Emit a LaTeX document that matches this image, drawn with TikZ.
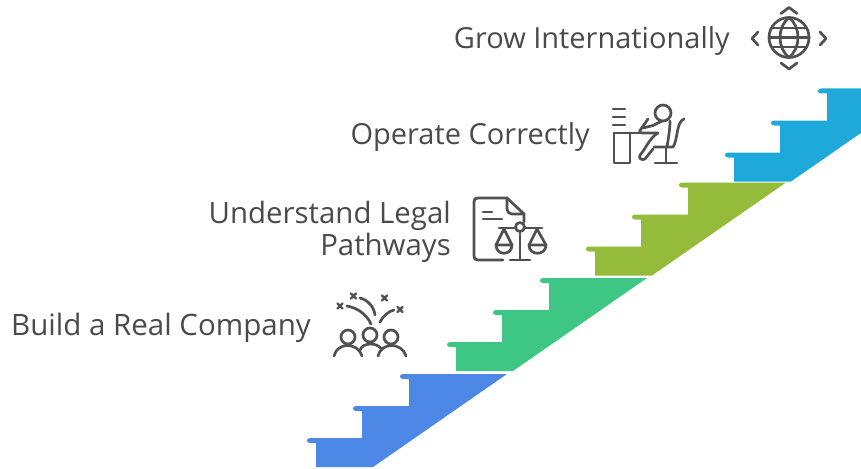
\documentclass[tikz,border=0pt]{standalone}
\usepackage{fontspec}
\setmainfont{Open Sans}
\definecolor{txt}{HTML}{4A4A4A}
\definecolor{icon}{HTML}{505050}
\definecolor{sblue}{HTML}{4E88E6}
\definecolor{sgreen}{HTML}{3DC684}
\definecolor{solive}{HTML}{94BB3A}
\definecolor{ssky}{HTML}{1FA9DB}
\tikzset{
  label text/.style={text=txt,font=\fontsize{29}{32}\selectfont,inner sep=0pt,align=right},
  icon line/.style={draw=icon,line width=2.7pt,line cap=round,line join=round},
}
% stair flight, relative to the blue one at (316,467)
\newcommand{\stairflight}[3]{%
  \fill[#1,shift={(#2,#3)}] (316,467) -- (316,443) -- (310,443)
    .. controls (306,443) and (306,438) .. (310,438) -- (362,438) -- (362,411) -- (356,411)
    .. controls (352,411) and (352,406) .. (356,406) -- (409,406) -- (409,379) -- (403,379)
    .. controls (399,379) and (399,374) .. (403,374) -- (507,374) -- (373,467) -- cycle;}
\newcommand{\crossmark}[2]{%
  \draw[icon line,line width=2.4pt] (#1-2.5,#2-2.5) -- (#1+2.5,#2+2.5) (#1-2.5,#2+2.5) -- (#1+2.5,#2-2.5);}
\begin{document}
\begin{tikzpicture}[x=1pt,y=-1pt]
\useasboundingbox (0,0) rectangle (861,468);
\begin{scope}
\clip (0,0) rectangle (861,468);
\stairflight{sblue}{0}{0}
\stairflight{sgreen}{140}{-96}
\stairflight{solive}{279}{-191.5}
\stairflight{ssky}{418}{-285.5}
\end{scope}
% labels
\node[label text,anchor=base east] (grow) at (730,49) {Grow Internationally};
\node[label text,anchor=base east] (operate) at (590,144) {Operate Correctly};
\node[label text,font=\fontsize{29.4}{32}\selectfont,anchor=east] (legal) at (451,232) {Understand Legal\\Pathways};
\node[label text,font=\fontsize{29.5}{32}\selectfont,anchor=base east] (build) at (311,335) {Build a Real Company};
% globe icon
\begin{scope}[icon line]
\draw (789,37.5) circle[radius=20];
\draw (769,37.5) -- (809,37.5);
\draw (771.5,28) -- (806.5,28) (771.5,47) -- (806.5,47);
\draw (789,17.5) .. controls (777,27) and (777,48) .. (789,57.5);
\draw (789,17.5) .. controls (801,27) and (801,48) .. (789,57.5);
\draw (781,13.5) -- (789,7.5) -- (797,13.5);
\draw (781,63) -- (789,69) -- (797,63);
\draw (758,32) -- (752,38.5) -- (758,45);
\draw (820,32) -- (826,38.5) -- (820,45);
\end{scope}
% desk icon
\begin{scope}[icon line]
\draw (613,109) -- (625,109) (613,117) -- (625,117) (613,125) -- (625,125);
\draw (614,133) -- (614,163) -- (630,163) -- (630,133);
\draw (614,133) -- (639,133);
\draw (663,113) circle[radius=8];
\draw (648,119) -- (641,129) .. controls (638,133) and (640,133) .. (645,133) -- (658,133);
\draw (643,128) -- (653,125.5) -- (662,121);
\draw (670,121) .. controls (670,130) and (668,140) .. (667,147) -- (654,147);
\draw (658,133) .. controls (650,137) and (645,150) .. (640,155) .. controls (638,158) and (642,161) .. (645,159) -- (653,149);
\draw (666,147) -- (666,163) (655,163) -- (677,163);
\draw (667,147) -- (673,147) .. controls (678,140) and (676,122) .. (684,119);
\end{scope}
% document and scales icon
\begin{scope}[icon line]
\draw (503,260) -- (478,260) .. controls (475,260) and (474,259) .. (474,256) -- (474,202) .. controls (474,199) and (475,198) .. (478,198) -- (507,198) -- (524,214) -- (524,222);
\draw (507,198) -- (507,209) .. controls (507,212) and (509,214) .. (512,214) -- (524,214);
\draw (483,212) -- (492,212) (483,219) -- (502,219);
\draw (520,227) circle[radius=4.5];
\draw (499,228) -- (515.5,228) (524.5,228) -- (542,228);
\draw (520,232) -- (520,260) (510,260) -- (530,260);
\draw (496,245) -- (504,229) -- (512,245);
\draw (529,245) -- (537,229) -- (546,245);
\draw (496,245) -- (512,245) .. controls (512,256) and (496,256) .. (496,245);
\draw (529,245) -- (546,245) .. controls (546,256) and (529,256) .. (529,245);
\end{scope}
% crowd icon
\begin{scope}[icon line]
\draw (348,337) circle[radius=7];
\draw (370,335) circle[radius=7];
\draw (391,337) circle[radius=7];
\draw (334,356) .. controls (337,342) and (358,342) .. (362,356);
\draw (360,350) .. controls (363,342) and (378,342) .. (382,350);
\draw (378,356) .. controls (381,342) and (402,342) .. (406,356);
\draw (347,306) .. controls (358,308) and (367,315) .. (371,324);
\draw (360,298) .. controls (368,300) and (374,307) .. (375,315);
\draw (380,322) .. controls (383,316) and (389,311) .. (394,310);
\crossmark{340}{306}
\crossmark{353.5}{296}
\crossmark{384.5}{298}
\crossmark{400}{309.5}
\end{scope}
\end{tikzpicture}
\end{document}
